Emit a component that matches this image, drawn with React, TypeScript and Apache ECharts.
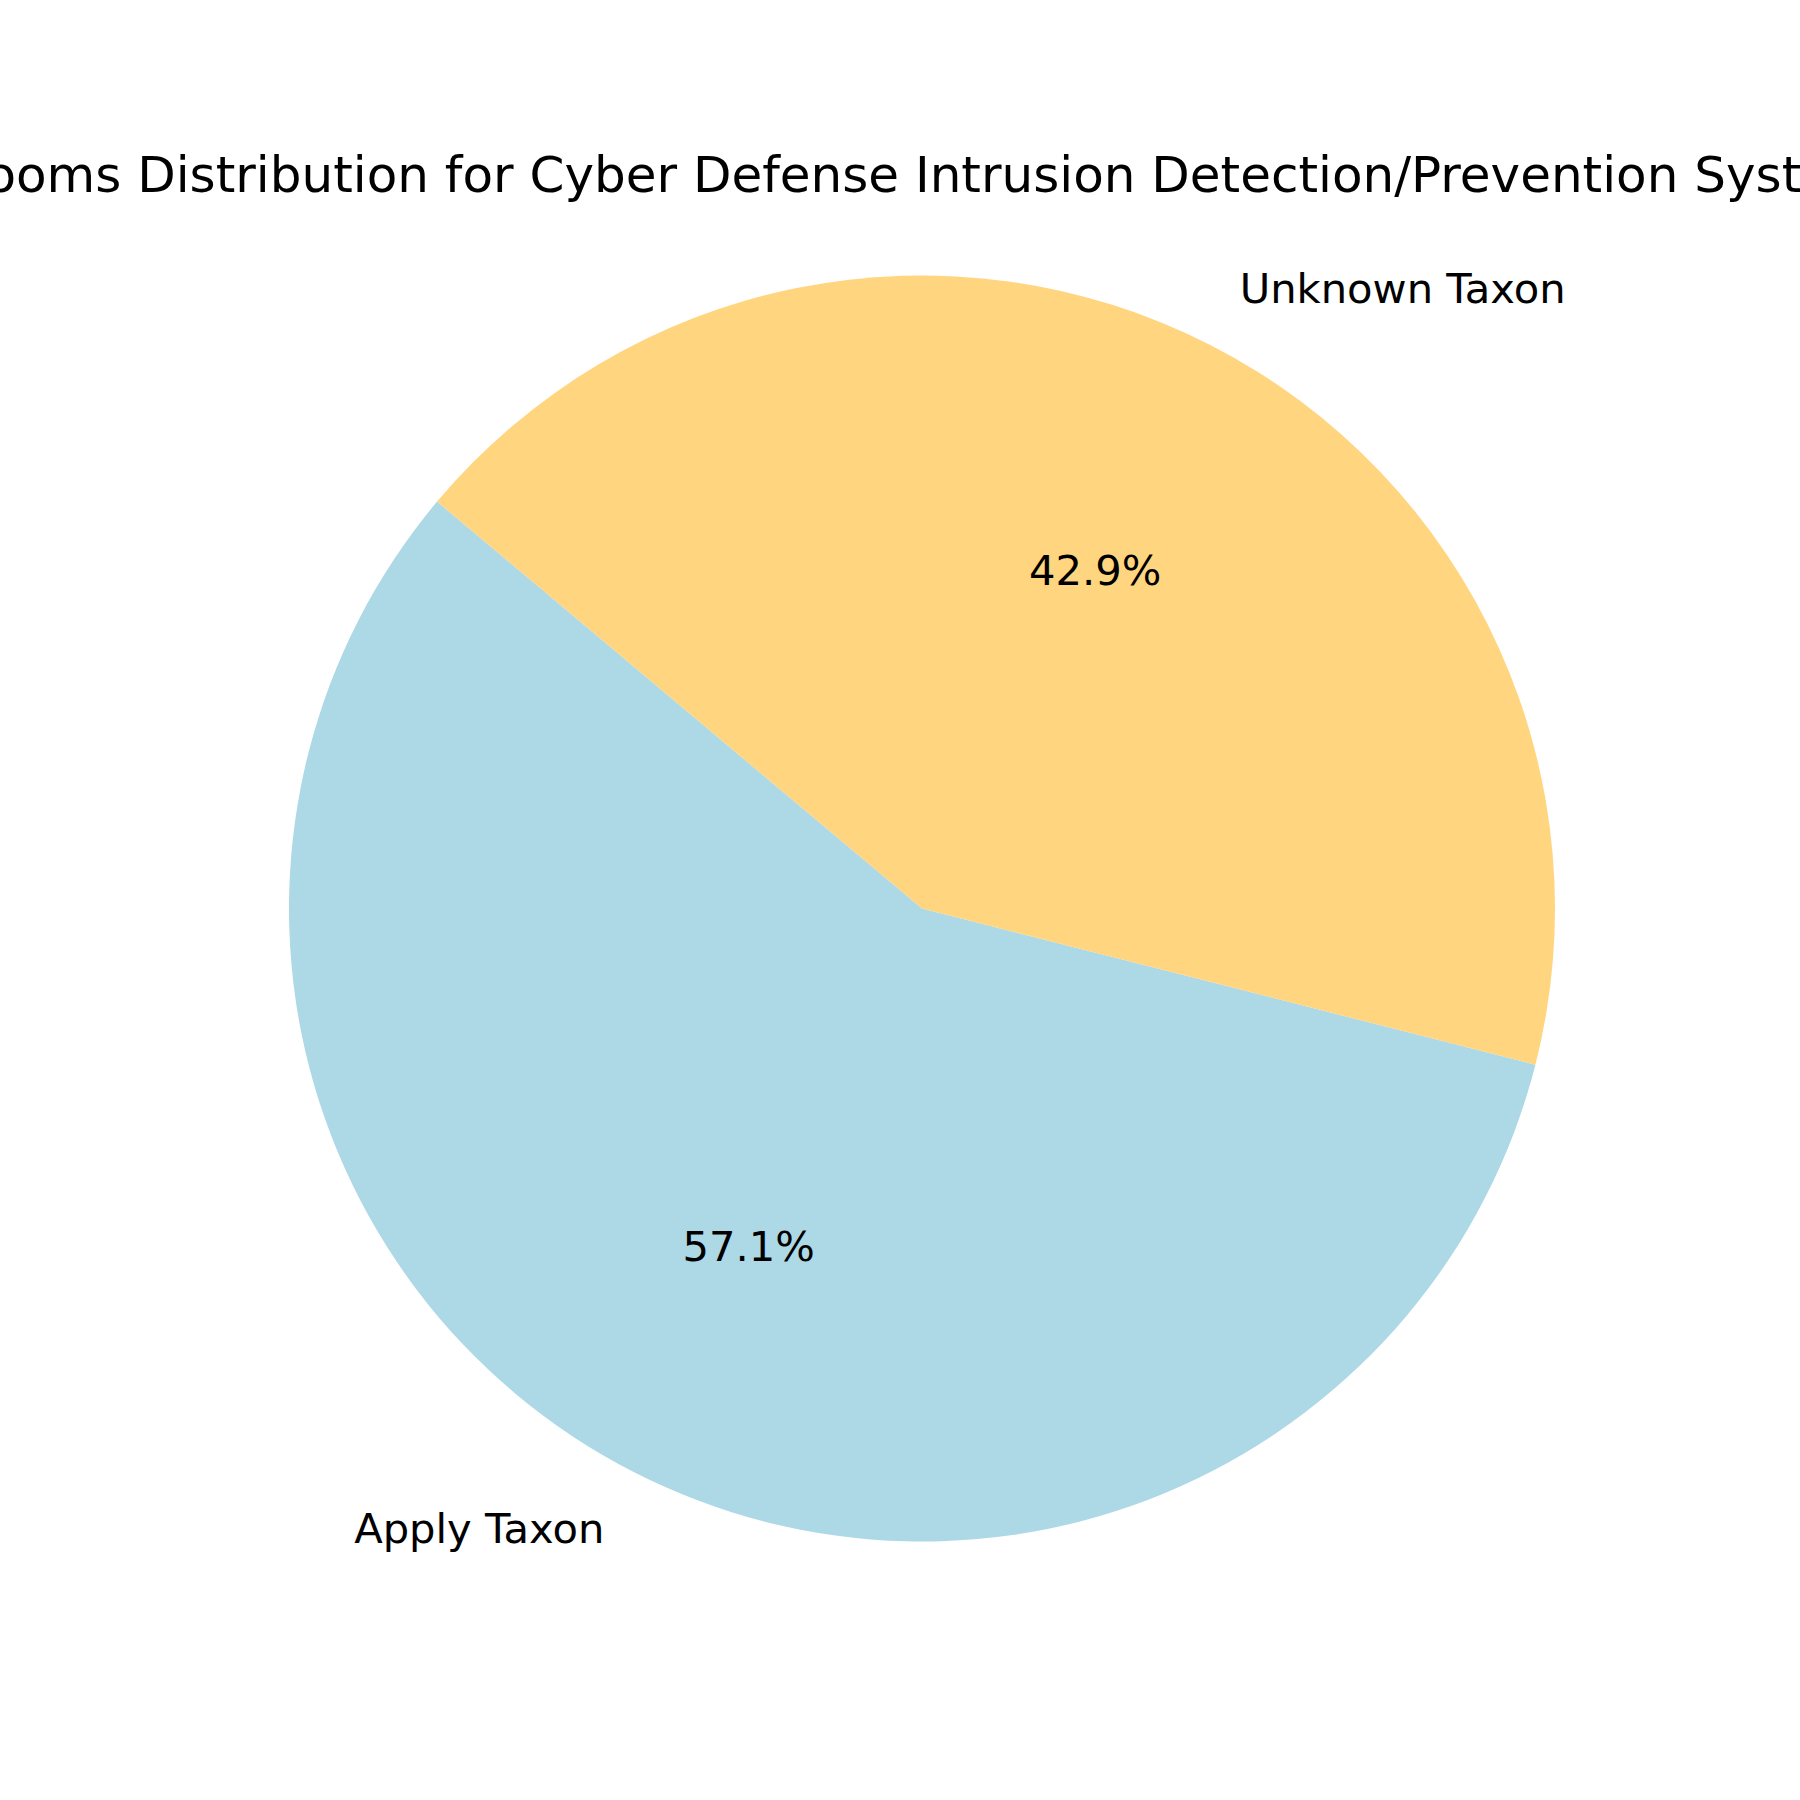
import React, { useEffect, useRef } from "react";
import * as echarts from "echarts";

const titleText = "Blooms Distribution for Cyber Defense Intrusion Detection/Prevention Systems";
const categories = ["Apply Taxon", "Unknown Taxon"];
const values = [4, 3];
const colors = ["#ADD8E6", "#FFD580"];

const R = 633;
const CX = 922;
const CY = 908.5;
const FONT = "DejaVu Sans";

export default function App() {
  const ref = useRef<HTMLDivElement>(null);
  useEffect(() => {
    if (!ref.current) return;
    const chart = echarts.init(ref.current, undefined, { renderer: "svg" });
    const data = categories.map((name, i) => ({
      name,
      value: values[i],
      itemStyle: { color: colors[i] },
    }));
    chart.setOption({
      animation: false,
      backgroundColor: "#ffffff",
      title: {
        text: titleText,
        left: CX,
        top: 150,
        padding: 0,
        textAlign: "center",
        textStyle: {
          fontFamily: FONT,
          fontSize: 50,
          fontWeight: "normal",
          color: "#000000",
        },
      },
      series: [
        {
          type: "pie",
          center: [CX, CY],
          radius: [0, R],
          startAngle: 140,
          clockwise: false,
          avoidLabelOverlap: false,
          silent: true,
          data,
          itemStyle: { borderWidth: 0 },
          label: {
            show: true,
            position: "outside",
            formatter: "{b}",
            fontFamily: FONT,
            fontSize: 41.67,
            color: "#000000",
            distanceToLabelLine: 0,
          },
          labelLine: { show: false, length: 0.1 * R, length2: 0 },
        },
        {
          type: "pie",
          center: [CX, CY],
          radius: [0.2 * R - 6, R],
          startAngle: 140,
          clockwise: false,
          avoidLabelOverlap: false,
          silent: true,
          percentPrecision: 1,
          data: categories.map((name, i) => ({
            name,
            value: values[i],
            itemStyle: { color: "rgba(0,0,0,0)" },
          })),
          label: {
            show: true,
            position: "inside",
            formatter: "{d}%",
            fontFamily: FONT,
            fontSize: 41.67,
            color: "#000000",
          },
          labelLine: { show: false },
        },
      ],
    });
    return () => chart.dispose();
  }, []);
  return (
    <div
      ref={ref}
      style={{ position: "fixed", left: 0, top: 0, width: 1800, height: 1800 }}
    />
  );
}
